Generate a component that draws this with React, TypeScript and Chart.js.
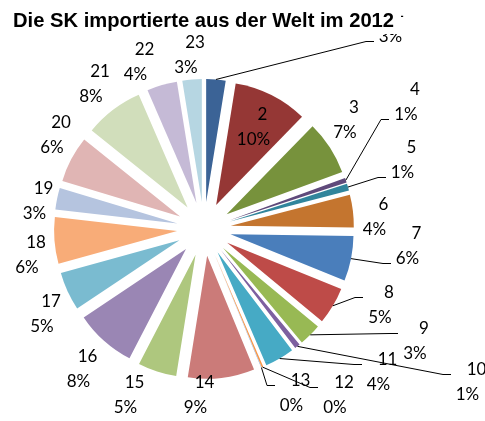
import { useEffect, useRef } from 'react';
import { Chart, registerables } from 'chart.js';

Chart.register(...registerables);

const TITLE = 'Die SK importierte aus der Welt im 2012';

const categories = ['1', '2', '3', '4', '5', '6', '7', '8', '9', '10', '11', '12', '13', '14', '15', '16', '17', '18', '19', '20', '21', '22', '23'];
const values = [2.5, 9.6, 7.0, 0.6, 0.9, 4.2, 5.8, 4.8, 2.9, 0.7, 3.8, 0.2, 0.05, 8.6, 5.0, 7.9, 5.0, 6.0, 2.8, 6.0, 7.6, 3.9, 2.5];
const colors = [
  '#3B6396', '#953735', '#77923C', '#5F4A7B', '#31859C', '#C4752F',
  '#4A7EBB', '#BE4B48', '#98B954', '#7D60A0', '#46AAC5', '#F79646',
  '#7F9FCF', '#CB7B79', '#AEC77E', '#9A86B4', '#7ABBD0', '#F8AC78',
  '#B5C4DF', '#E0B5B4', '#D1DEBB', '#C5BAD6', '#B6D6E2',
];
// categories whose labels are joined to their slice by a leader line
const leaderCategories = ['1', '4', '5', '7', '8', '9', '10', '11', '12', '13'];

// layout: label anchor offsets from the pie centre
const labelOffsets: [number, number][] = [
  [191, -199.5], [54, -96.5], [145.5, -103.5], [206.5, -121.5], [203, -64],
  [175, -6.5], [208, 22.5], [180.5, 81.5], [215.5, 117.5], [268, 158.5],
  [179, 148.5], [135.5, 171.5], [92, 169.5], [-4, 171.5], [-74, 171.5],
  [-121, 145.5], [-157.5, 90.5], [-172.5, 31.5], [-165, -22.5], [-147.5, -88.5],
  [-108.5, -139.5], [-64, -161.5], [-13.5, -169],
];

const RADIUS = 123;
const EXPLODE = 27;

const decorPlugin = {
  id: 'decor',
  afterDatasetUpdate(chart: any, args: any) {
    const meta = chart.getDatasetMeta(args.index);
    meta.data.forEach((arc: any) => {
      const mid = (arc.startAngle + arc.endAngle) / 2;
      arc.x += Math.cos(mid) * EXPLODE;
      arc.y += Math.sin(mid) * EXPLODE;
    });
  },
  afterDraw(chart: any) {
    const ctx = chart.ctx as CanvasRenderingContext2D;
    const meta = chart.getDatasetMeta(0);
    const area = chart.chartArea;
    const cx = (area.left + area.right) / 2;
    const cy = (area.top + area.bottom) / 2;
    const total = values.reduce((a, b) => a + b, 0);
    ctx.save();
    ctx.font = '17px Lato';
    ctx.textAlign = 'center';
    ctx.textBaseline = 'alphabetic';
    ctx.lineWidth = 1;
    ctx.strokeStyle = '#000';
    meta.data.forEach((arc: any, i: number) => {
      const ax = cx + labelOffsets[i][0];
      const ay = cy + labelOffsets[i][1];
      const l1 = categories[i];
      const l2 = Math.round((values[i] / total) * 100) + '%';
      const b1 = ay - 12.5;
      const b2 = ay + 12.5;
      ctx.fillStyle = '#000';
      ctx.fillText(l1, ax + 4.5, b1);
      ctx.fillText(l2, ax - 4.5, b2);
      if (leaderCategories.includes(l1)) {
        const mid = (arc.startAngle + arc.endAngle) / 2;
        const sx = arc.x + Math.cos(mid) * arc.outerRadius;
        const sy = arc.y + Math.sin(mid) * arc.outerRadius;
        const w2 = ctx.measureText(l2).width;
        const left = ax - 4.5 - w2 / 2;
        const ly = Math.round(ay < sy ? b2 : b1) - 0.5;
        const fx = Math.round(left - 5);
        const ex = fx - 8;
        ctx.beginPath();
        ctx.moveTo(sx, sy);
        ctx.lineTo(ex, ly);
        ctx.lineTo(fx, ly);
        ctx.stroke();
      }
    });
    // title with its white box
    ctx.fillStyle = '#fff';
    ctx.fillRect(0, 0, 401, 34);
    ctx.fillStyle = '#000';
    ctx.textAlign = 'left';
    ctx.font = 'bold 20.2px "Liberation Sans", Arial, sans-serif';
    ctx.fillText(TITLE, 13, 27);
    ctx.restore();
  },
};

export default function App() {
  const ref = useRef<HTMLCanvasElement | null>(null);
  useEffect(() => {
    if (!ref.current) return;
    const chart = new Chart(ref.current, {
      type: 'pie',
      data: {
        labels: categories,
        datasets: [
          {
            data: values,
            backgroundColor: colors,
            borderWidth: 0,
            radius: RADIUS,
            clip: false,
          } as any,
        ],
      },
      options: {
        animation: false,
        responsive: false,
        devicePixelRatio: 1,
        events: [],
        layout: { padding: { left: 54, right: 131, top: 79, bottom: 42 } },
        plugins: {
          legend: { display: false },
          tooltip: { enabled: false },
          title: { display: false },
        },
      } as any,
      plugins: [decorPlugin],
    });
    return () => chart.destroy();
  }, []);
  return (
    <div style={{ position: 'absolute', left: 0, top: 0, width: 485, height: 421, background: '#fff' }}>
      <canvas ref={ref} width={485} height={421} style={{ display: 'block', width: 485, height: 421 }} />
    </div>
  );
}
